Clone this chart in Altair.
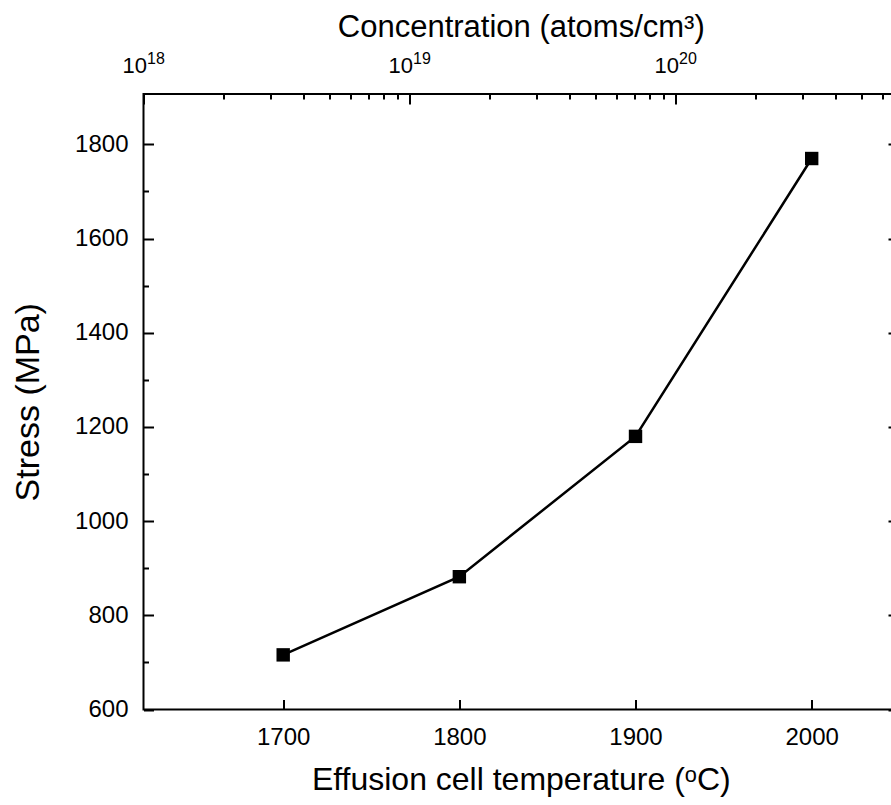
import altair as alt
import pandas as pd

# Measured film stress versus effusion cell temperature
temperature = [1700, 1800, 1900, 2000]
stress = [716, 882, 1180, 1770]

# Tick positions for the four frame sides
temp_ticks = [1700, 1800, 1900, 2000]
stress_major = [600, 800, 1000, 1200, 1400, 1600, 1800]
stress_minor = [700, 900, 1100, 1300, 1500, 1700]
conc_major = [1e18, 1e19, 1e20]
conc_minor = [2e18, 3e18, 4e18, 5e18, 6e18, 7e18, 8e18, 9e18,
              2e19, 3e19, 4e19, 5e19, 6e19, 7e19, 8e19, 9e19,
              2e20, 3e20, 4e20, 5e20, 6e20]

# Scale extents
temp_domain = [1620.7, 2049]
stress_domain = [600, 1907]
conc_domain = [1e18, 6.86e20]

FONT = "Liberation Sans"

df = pd.DataFrame({"T": temperature, "S": stress})
conc_df = pd.DataFrame({"C": conc_major})

temp_scale = alt.Scale(domain=temp_domain, nice=False, zero=False)
stress_scale = alt.Scale(domain=stress_domain, nice=False, zero=False)
conc_scale = alt.Scale(type="log", domain=conc_domain, nice=False)

# Data line with bottom (temperature) and left (stress) axes; ticks point inward
line = alt.Chart(df).mark_line(color="black", strokeWidth=2.5).encode(
    x=alt.X("T:Q", scale=temp_scale,
            axis=alt.Axis(orient="bottom", values=temp_ticks, offset=-10, tickSize=10,
                          format="d", labelFontSize=24, labelPadding=15.5,
                          title="Effusion cell temperature (ᵒC)", titleFontSize=32,
                          titlePadding=15)),
    y=alt.Y("S:Q", scale=stress_scale,
            axis=alt.Axis(orient="left", values=stress_major, offset=-10, tickSize=10,
                          format="d", labelFontSize=24, labelPadding=15.5,
                          title="Stress (MPa)", titleFontSize=34, titlePadding=29)),
)

points = alt.Chart(df).mark_square(size=180, color="black", opacity=1).encode(
    x=alt.X("T:Q", scale=temp_scale, axis=None),
    y=alt.Y("S:Q", axis=None),
)

# Extra inward tick sets on the left and right sides
def y_ticks(orient, values, length):
    return alt.Chart(df).mark_point(opacity=0).encode(
        y=alt.Y("S:Q", axis=alt.Axis(orient=orient, values=values, offset=-length,
                                     tickSize=length, labels=False, title=None))
    )

left_minor = y_ticks("left", stress_minor, 5)
right_major = y_ticks("right", stress_major, 10)
right_minor = y_ticks("right", stress_minor, 5)

# Top logarithmic concentration axis: ticks, base "10" and exponent labels
def top_axis(**kw):
    return alt.Chart(conc_df).mark_point(opacity=0).encode(
        x=alt.X("C:Q", scale=conc_scale, axis=alt.Axis(orient="top", **kw))
    )

top_major = top_axis(values=conc_major, offset=-10, tickSize=10, labels=False,
                     title="Concentration (atoms/cm³)", titleFontSize=31,
                     titlePadding=50)
top_minor = top_axis(values=conc_minor, offset=-5, tickSize=5, labels=False,
                     title=None)
top_base = top_axis(values=conc_major, ticks=False, translate=3.5,
                    labelExpr="'10'", labelAlign="right", labelFontSize=22,
                    labelPadding=24.5, labelBaseline="alphabetic", title=None)
top_exponent = top_axis(values=conc_major, ticks=False, translate=3.5,
                        labelExpr="'' + round(log(datum.value) / LN10)",
                        labelAlign="left", labelFontSize=16, labelPadding=33.5,
                        labelBaseline="alphabetic", title=None)

chart = (
    alt.layer(line, points, left_minor, right_major, right_minor,
              top_major, top_minor, top_base, top_exponent)
    .resolve_scale(x="independent")
    .resolve_axis(x="independent", y="independent")
    .properties(
        width=754.5,
        height=615.5,
        autosize=alt.AutoSizeParams(type="none"),
        padding={"left": 143.5, "top": 94, "right": -7, "bottom": 95.5},
        background="white",
    )
    .configure_view(stroke="black", strokeWidth=2)
    .configure_axis(
        domain=False,
        grid=False,
        tickColor="black",
        tickWidth=2,
        labelColor="black",
        titleColor="black",
        labelFont=FONT,
        titleFont=FONT,
        titleFontWeight="normal",
        labelFlush=False,
        labelOverlap=False,
    )
)

chart.save("out.html", embed_options={"renderer": "svg", "actions": False})
